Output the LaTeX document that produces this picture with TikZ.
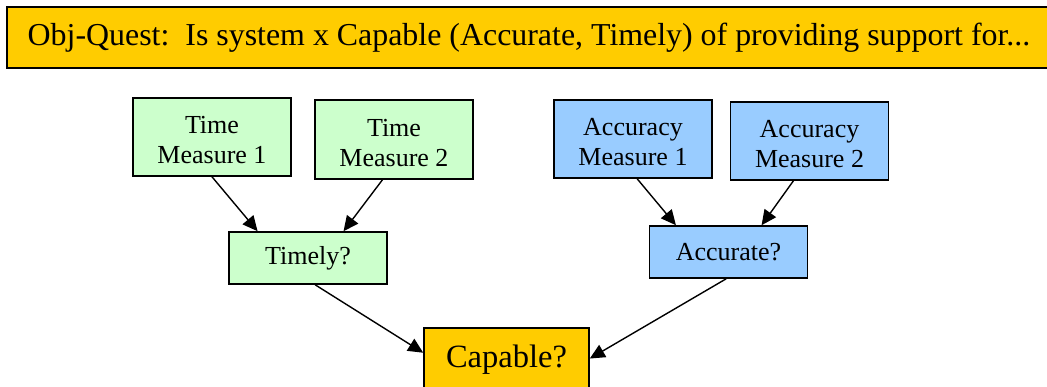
\documentclass[tikz,border=0pt]{standalone}
\usepackage{fontspec}
\setmainfont{Liberation Serif}
\usetikzlibrary{arrows.meta}
\definecolor{goldbox}{HTML}{FFCC00}
\definecolor{greenbox}{HTML}{CCFFCC}
\definecolor{bluebox}{HTML}{99CCFF}
\newcommand{\tallline}{\rule{0pt}{23.5pt}}
\tikzset{
  measure/.style={draw, line width=1.6pt, align=center, inner sep=0pt,
    minimum width=158pt, font=\fontsize{26}{30}\selectfont},
  timebox/.style={measure, fill=greenbox},
  accbox/.style={measure, fill=bluebox},
  goalbox/.style={draw, line width=1.6pt, fill=goldbox, inner sep=0pt},
  link/.style={-{Triangle[length=15pt,width=14pt]}, line width=1.4pt}
}
\begin{document}
\begin{tikzpicture}[x=1pt, y=-1pt]
		\clip (0,0) rectangle (1047,386);
		\node[goalbox, minimum width=1044pt, minimum height=61pt, font=\fontsize{31.9}{40}\selectfont] (quest) at (529,37.5) {Obj-Quest:\ \ Is system x Capable (Accurate, Timely) of providing support for...};
		\node[timebox, minimum height=78pt] (time1) at (212,137) {\tallline Time\\Measure 1};
		\node[timebox, minimum height=79pt] (time2) at (394,139.5) {\tallline Time\\Measure 2};
		\node[timebox, minimum height=52pt] (timely) at (308,258) {Timely?};
		\node[accbox, minimum height=78pt] (acc1) at (633,139) {\tallline Accuracy\\Measure 1};
		\node[accbox, minimum height=78pt] (acc2) at (809.5,141) {\tallline Accuracy\\Measure 2};
		\node[accbox, minimum height=52pt] (accurate) at (728.5,252) {Accurate?};
		\node[goalbox, minimum width=165pt, minimum height=64pt, font=\fontsize{32.5}{40}\selectfont] (capable) at (506.5,360) {Capable?};
		\draw[link] (time1.south) -- (timely.152);
		\draw[link] (time2.254) -- (timely.37);
		\draw[link] (acc1.276) -- (accurate.153);
		\draw[link] (acc2.248) -- (accurate.39);
		\draw[link] (timely.285) -- (capable.175);
		\draw[link] (accurate.265) -- (capable.1);
\end{tikzpicture}
\end{document}
